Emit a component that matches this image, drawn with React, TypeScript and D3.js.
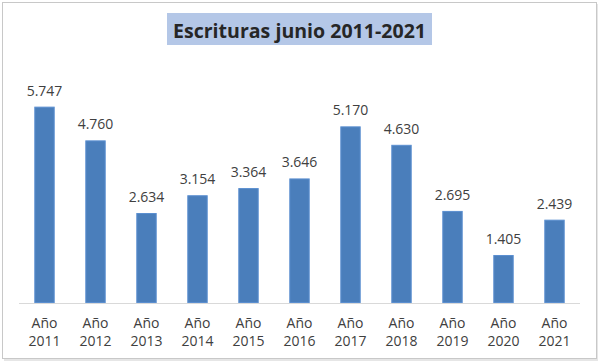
import React from "react";
import * as d3 from "d3";

const categories = ["2011", "2012", "2013", "2014", "2015", "2016", "2017", "2018", "2019", "2020", "2021"];
const values = [5747, 4760, 2634, 3154, 3364, 3646, 5170, 4630, 2695, 1405, 2439];
const title = "Escrituras junio 2011-2021";

const W = 600;
const H = 362;

export default function App() {
  const x = d3.scaleBand<string>().domain(categories).range([19, 580]).paddingInner(0.6).paddingOuter(0.3);
  const y = d3.scaleLinear().domain([0, 6000]).range([303, 98]);
  const fmt = (v: number) => d3.format(",")(v).replace(/,/g, ".");
  const font = "'Open Sans', 'Liberation Sans', sans-serif";
  return (
    <svg width={W} height={H} style={{ position: "fixed", left: 0, top: 0, background: "#fff" }} fontFamily={font}>
      <rect x={4} y={4} width={594} height={357} fill="#e6e6e6" />
      <rect x={2.5} y={2.5} width={594} height={356} fill="#fff" stroke="#c8c8c8" />
      <rect x={167} y={13} width={265} height={32} fill="#b4c7e7" />
      <text x={299.5} y={37.5} textAnchor="middle" fontSize={20} fontWeight="bold" fill="#262626" textLength={253} lengthAdjust="spacingAndGlyphs">{title}</text>
      <line x1={19} x2={580} y1={303.5} y2={303.5} stroke="#d9d9d9" />
      {categories.map((c, i) => {
        const bx = x(c)!;
        const bw = x.bandwidth();
        return (
          <g key={c}>
            <rect x={bx + 0.5} y={y(values[i]) + 0.5} width={bw - 1} height={y(0) - y(values[i]) - 1} fill="#4a7ebb" stroke="#5b8fd0" />
            <text x={bx + bw / 2} y={y(values[i]) - 11} textAnchor="middle" fontSize={14} fill="#404040">{fmt(values[i])}</text>
            <text x={bx + bw / 2} y={327.5} textAnchor="middle" fontSize={14} fill="#404040">Año</text>
            <text x={bx + bw / 2} y={345.5} textAnchor="middle" fontSize={14} fill="#404040">{c}</text>
          </g>
        );
      })}
    </svg>
  );
}
